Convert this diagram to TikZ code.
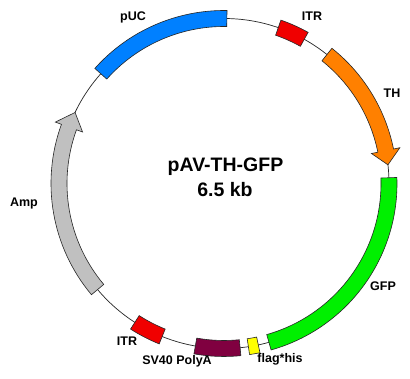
\documentclass[tikz,border=0pt]{standalone}
\usepackage{fontspec}
\setmainfont{Liberation Sans}
\definecolor{pucblue}{RGB}{0,128,255}
\definecolor{itrred}{RGB}{240,0,0}
\definecolor{thorange}{RGB}{255,128,0}
\definecolor{gfpgreen}{RGB}{0,240,0}
\definecolor{flagyellow}{RGB}{255,255,0}
\definecolor{svmaroon}{RGB}{128,0,64}
\definecolor{ampgray}{RGB}{192,192,192}
\tikzset{
  feat/.style={draw=black!85, line width=0.6pt, line join=miter},
  backbone/.style={draw=black!85, line width=0.7pt},
  lbl/.style={font=\bfseries\fontsize{12.5}{14}\selectfont, inner sep=0pt},
  ttl/.style={font=\bfseries\fontsize{19.5}{22}\selectfont, inner sep=0pt}
}
\newcommand\featband[3]{%
  \path[feat, fill=#3] (#1:157pt) arc[start angle=#1, end angle=#2, radius=157pt]
    -- (#2:173pt) arc[start angle=#2, end angle=#1, radius=173pt] -- cycle;}
\newcommand\featarrow[4]{%
  \path[feat, fill=#4] (#1:157pt) arc[start angle=#1, end angle=#2, radius=157pt]
    -- (#2:150.5pt) -- (#3:165pt) -- (#2:179.5pt)
    -- (#2:173pt) arc[start angle=#2, end angle=#1, radius=173pt] -- cycle;}
\begin{document}
\begin{tikzpicture}
\useasboundingbox (0,0) rectangle (410pt,-379pt);
\fill[white] (0,0) rectangle (410pt,-379pt);
\begin{scope}[shift={(224pt,-183.5pt)}]
  \coordinate (c) at (0,0);
  \draw[backbone] (c) circle[radius=165pt];
  \featband{89}{138.3}{pucblue}
  \featband{60.9}{70.8}{itrred}
  \featarrow{51.4}{11.5}{6.5}{thorange}
  \featband{2}{-74.2}{gfpgreen}
  \featband{-78}{-81.5}{flagyellow}
  \featband{-84.4}{-100}{svmaroon}
  \featband{-112}{-122.7}{itrred}
  \featarrow{220}{160}{154.5}{ampgray}
\end{scope}
\node[lbl] (lpuc) at (133pt,-17pt) {pUC};
\node[lbl] (litr1) at (312pt,-16pt) {ITR};
\node[lbl] (lth) at (392pt,-93pt) {TH};
\node[lbl] (lgfp) at (383pt,-286pt) {GFP};
\node[lbl] (lflag) at (280pt,-359pt) {flag*his};
\node[lbl] (lsv) at (177pt,-361.5pt) {SV40 PolyA};
\node[lbl] (litr2) at (127pt,-341pt) {ITR};
\node[lbl] (lamp) at (24pt,-203pt) {Amp};
\node[ttl] (title) at (225.5pt,-167pt) {pAV-TH-GFP};
\node[ttl] (size) at (225pt,-190pt) {6.5 kb};
\end{tikzpicture}
\end{document}
